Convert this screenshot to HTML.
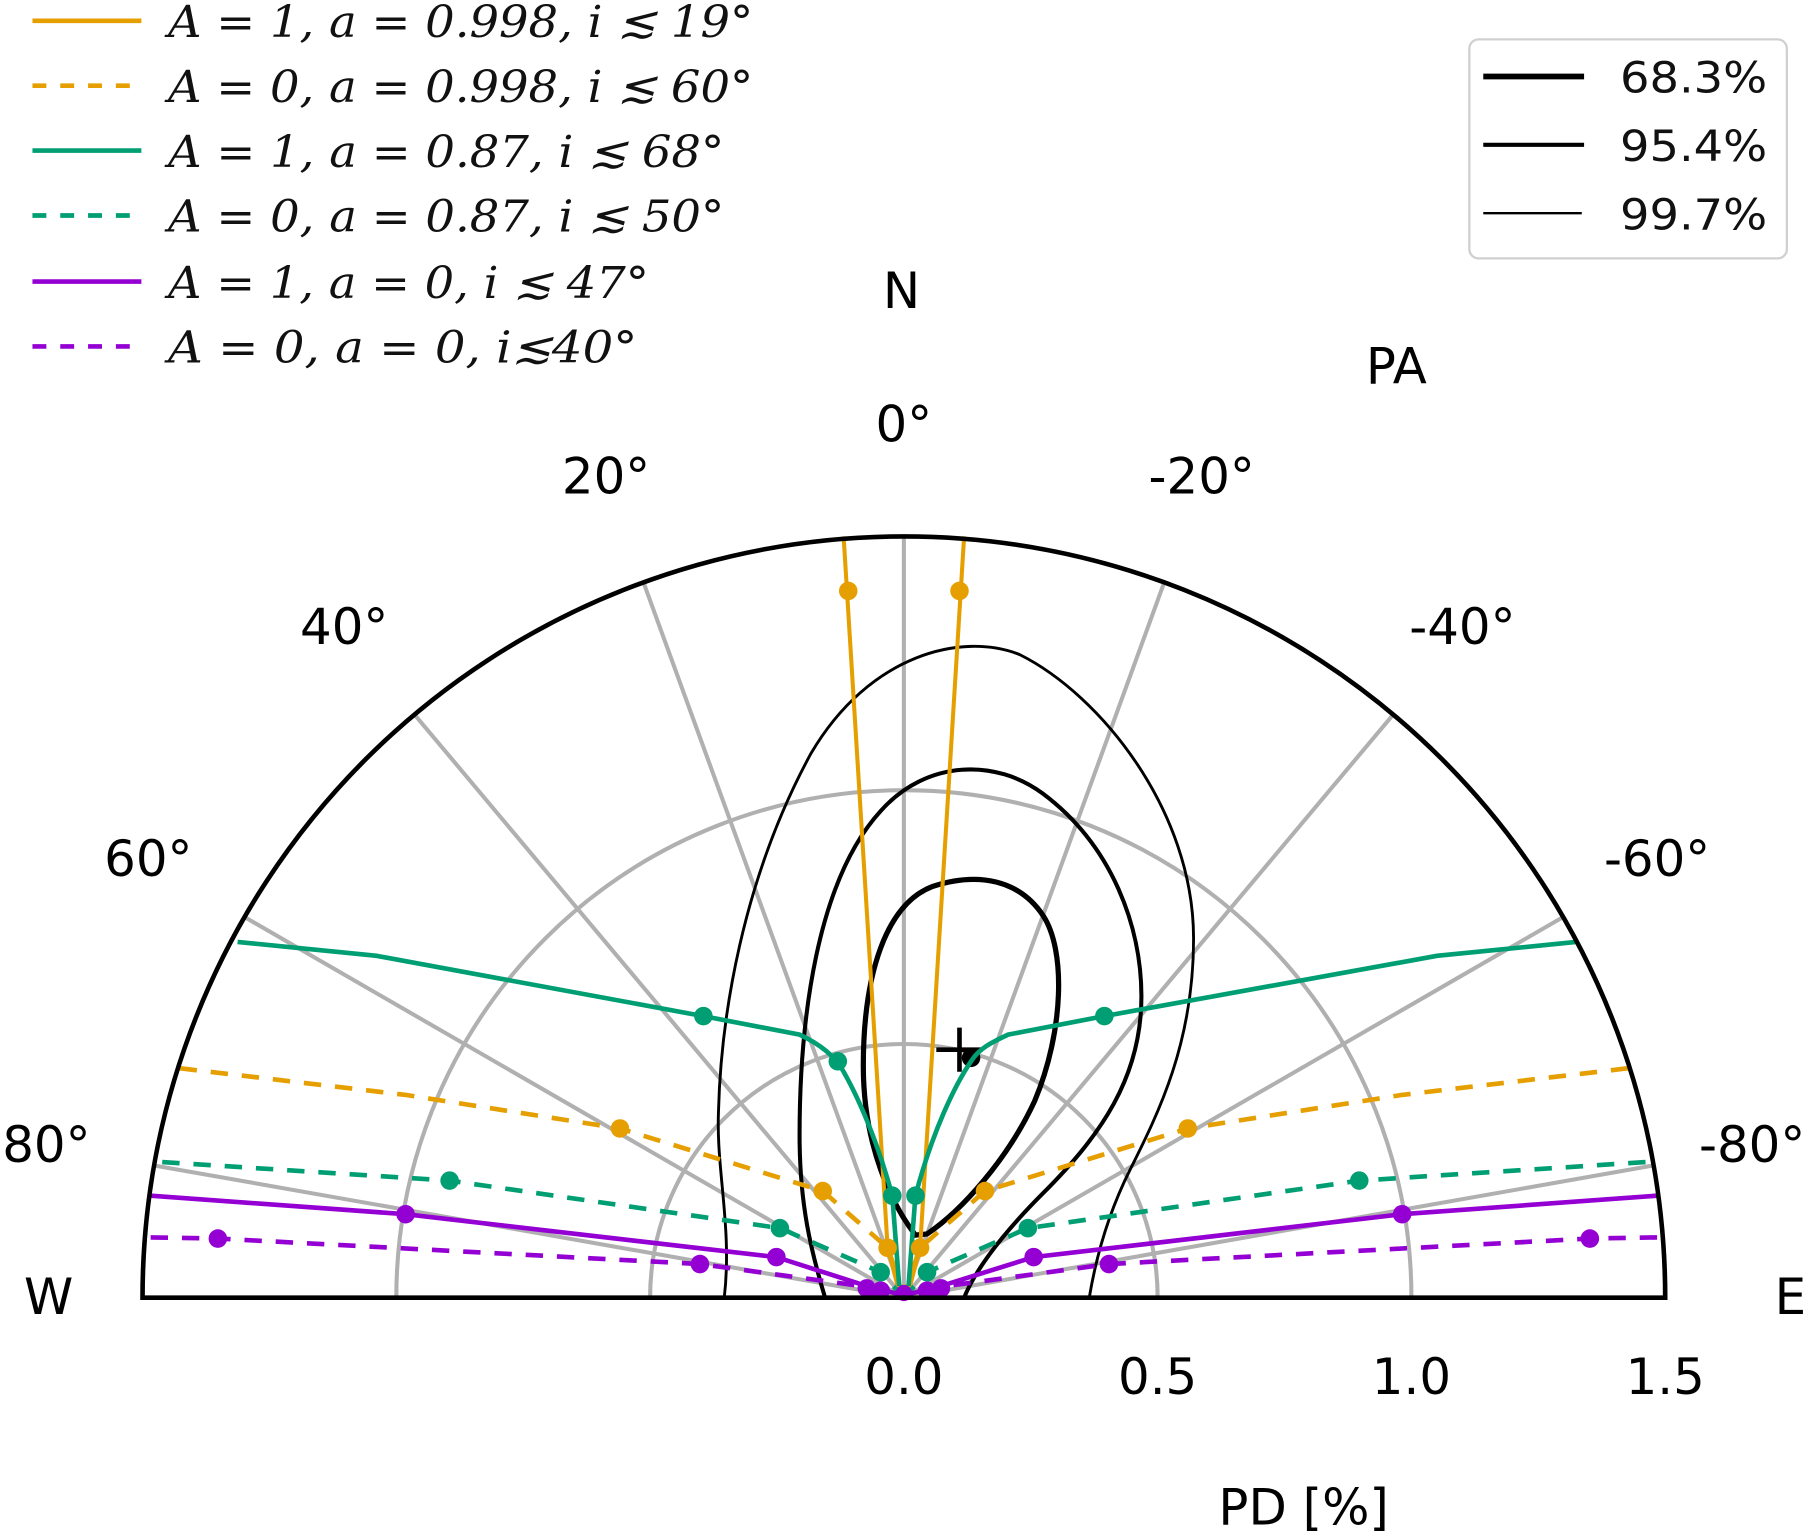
<!DOCTYPE html>
<html><head><meta charset="utf-8"><style>
html,body{margin:0;padding:0;background:#fff}
svg{display:block}
.t{font-family:"DejaVu Sans","Liberation Sans",sans-serif;font-size:43px;fill:#000}
.l{font-family:"DejaVu Serif","Liberation Serif",serif;font-style:italic;font-size:38px;fill:#111}
.r{font-family:"DejaVu Sans","Liberation Sans",sans-serif;font-size:37px;fill:#111}
</style></head><body>
<svg width="1817" height="1534" viewBox="0 0 1568 1324" preserveAspectRatio="none" xmlns="http://www.w3.org/2000/svg">
<g stroke="#b0b0b0" stroke-width="3.5" fill="none">
<path d="M561,1120 A219,219 0 0 1 999,1120"/>
<path d="M342,1120 A438,438 0 0 1 1218,1120"/>
<line x1="780" y1="1120" x2="780" y2="463"/>
<line x1="780" y1="1120" x2="555.3" y2="502.6"/>
<line x1="780" y1="1120" x2="1004.7" y2="502.6"/>
<line x1="780" y1="1120" x2="357.7" y2="616.7"/>
<line x1="780" y1="1120" x2="1202.3" y2="616.7"/>
<line x1="780" y1="1120" x2="211" y2="791.5"/>
<line x1="780" y1="1120" x2="1349" y2="791.5"/>
<line x1="780" y1="1120" x2="133" y2="1005.9"/>
<line x1="780" y1="1120" x2="1427" y2="1005.9"/>
</g>
<g stroke="#000" fill="none">
<path stroke-width="2.5" d="M625,1120 C632,1060 618,1010 620,960 C622,880 640,760 700,650 C750,565 830,545 880,565 C950,600 1030,700 1030,810 C1030,900 1000,960 975,1010 C955,1050 945,1090 940,1120"/>
<path stroke-width="3.5" d="M712,1120 C700,1080 690,1040 690,980 C690,880 705,760 760,700 C800,655 860,655 900,685 C960,730 985,800 985,860 C985,930 950,980 900,1030 C860,1070 840,1100 832,1120"/>
<path stroke-width="4.5" d="M790,1066 C770,1040 745,990 745,920 C745,840 765,780 805,765 C845,752 880,760 900,790 C920,820 918,890 893,950 C870,1000 830,1045 800,1065 Z"/>
<path stroke-width="4" d="M828,887 V925 M808,906 H848"/>
<circle cx="838" cy="913" r="8" fill="#000" stroke="none"/>
</g>
<g stroke="#E69F00" stroke-width="3.5" fill="none">
<path d="M776,1115 L766,1077 L728,463"/>
<path d="M784,1115 L794,1077 L832,463"/>
</g>
<g stroke="#E69F00" stroke-width="4" fill="none" stroke-dasharray="15,12">
<path d="M155,922 L350,945 L535,974 L710,1028 L766,1077 L780,1117"/>
<path d="M1405,922 L1210,945 L1025,974 L850,1028 L794,1077 L780,1117"/>
</g>
<g stroke="#009E73" stroke-width="4" fill="none">
<path d="M205,813 L325,825 L607,877 L690,893 C705,900 720,910 728,925 C745,955 760,995 770,1032 L776,1110"/>
<path d="M1360,813 L1240,825 L953,877 L870,893 C855,900 845,905 838,916 C825,935 805,975 790,1032 L784,1110"/>
</g>
<g stroke="#009E73" stroke-width="4" fill="none" stroke-dasharray="15,12">
<path d="M140,1003 L388,1019 L673,1060 L760,1098 L778,1118"/>
<path d="M1420,1003 L1173,1019 L887,1060 L800,1098 L782,1118"/>
</g>
<g stroke="#9400D3" stroke-width="4" fill="none">
<path d="M130,1032 L350,1048 L670,1085 L748,1110 L780,1118"/>
<path d="M1430,1032 L1210,1048 L892,1085 L812,1110 L780,1118"/>
</g>
<g stroke="#9400D3" stroke-width="4" fill="none" stroke-dasharray="15,12">
<path d="M130,1068 L188,1069 L604,1091 L758,1112"/>
<path d="M1430,1068 L1372,1069 L957,1091 L802,1112"/>
</g>
<g fill="#E69F00">
<circle cx="732" cy="510" r="8"/><circle cx="828" cy="510" r="8"/>
<circle cx="766" cy="1077" r="8"/><circle cx="794" cy="1077" r="8"/>
<circle cx="535" cy="974" r="8"/><circle cx="710" cy="1028" r="8"/>
<circle cx="1025" cy="974" r="8"/><circle cx="850" cy="1028" r="8"/>
</g>
<g fill="#009E73">
<circle cx="607" cy="877" r="8"/><circle cx="723" cy="916" r="8"/><circle cx="770" cy="1032" r="8"/>
<circle cx="953" cy="877" r="8"/><circle cx="790" cy="1032" r="8"/>
<circle cx="388" cy="1019" r="8"/><circle cx="673" cy="1060" r="8"/><circle cx="760" cy="1098" r="8"/>
<circle cx="1173" cy="1019" r="8"/><circle cx="887" cy="1060" r="8"/><circle cx="800" cy="1098" r="8"/>
</g>
<g fill="#9400D3">
<circle cx="350" cy="1048" r="8"/><circle cx="670" cy="1085" r="8"/><circle cx="1210" cy="1048" r="8"/><circle cx="892" cy="1085" r="8"/>
<circle cx="188" cy="1069" r="8"/><circle cx="604" cy="1091" r="8"/><circle cx="1372" cy="1069" r="8"/><circle cx="957" cy="1091" r="8"/>
<circle cx="748" cy="1112" r="8"/><circle cx="760" cy="1114" r="8"/><circle cx="800" cy="1114" r="8"/><circle cx="812" cy="1112" r="8"/><circle cx="780" cy="1116" r="7"/>
</g>
<path d="M123,1120 A657,657 0 0 1 1437,1120 Z" fill="none" stroke="#000" stroke-width="4"/>
<g class="t" text-anchor="middle">
<text x="778" y="266">N</text>
<text x="1205" y="331">PA</text>
<text x="780" y="381">0°</text>
<text x="523" y="426">20°</text>
<text x="1037" y="426">-20°</text>
<text x="297" y="556">40°</text>
<text x="1262" y="556">-40°</text>
<text x="128" y="756">60°</text>
<text x="1430" y="756">-60°</text>
<text x="40" y="1003">80°</text>
<text x="1512" y="1003">-80°</text>
<text x="42" y="1134">W</text>
<text x="1545" y="1134">E</text>
<text x="780" y="1203">0.0</text>
<text x="999" y="1203">0.5</text>
<text x="1218" y="1203">1.0</text>
<text x="1437" y="1203">1.5</text>
<text x="1125" y="1316">PD [%]</text>
</g>
<g stroke-width="4" fill="none">
<line x1="28" y1="18" x2="122" y2="18" stroke="#E69F00"/>
<line x1="28" y1="74" x2="122" y2="74" stroke="#E69F00" stroke-dasharray="12,12"/>
<line x1="28" y1="130" x2="122" y2="130" stroke="#009E73"/>
<line x1="28" y1="186" x2="122" y2="186" stroke="#009E73" stroke-dasharray="12,12"/>
<line x1="28" y1="243" x2="122" y2="243" stroke="#9400D3"/>
<line x1="28" y1="299" x2="122" y2="299" stroke="#9400D3" stroke-dasharray="12,12"/>
</g>
<g class="l">
<text x="145" y="32" textLength="505" lengthAdjust="spacingAndGlyphs">A = 1, a = 0.998, i ≲ 19°</text>
<text x="145" y="88" textLength="505" lengthAdjust="spacingAndGlyphs">A = 0, a = 0.998, i ≲ 60°</text>
<text x="145" y="144" textLength="480" lengthAdjust="spacingAndGlyphs">A = 1, a = 0.87, i ≲ 68°</text>
<text x="145" y="200" textLength="480" lengthAdjust="spacingAndGlyphs">A = 0, a = 0.87, i ≲ 50°</text>
<text x="145" y="257" textLength="415" lengthAdjust="spacingAndGlyphs">A = 1, a = 0, i ≲ 47°</text>
<text x="145" y="313" textLength="405" lengthAdjust="spacingAndGlyphs">A = 0, a = 0, i≲40°</text>
</g>
<rect x="1268" y="34" width="274" height="189" rx="8" fill="#fff" stroke="#d0d0d0" stroke-width="2"/>
<line x1="1280" y1="66" x2="1367" y2="66" stroke="#000" stroke-width="5"/>
<line x1="1280" y1="125" x2="1367" y2="125" stroke="#000" stroke-width="3.5"/>
<line x1="1280" y1="184" x2="1365" y2="184" stroke="#000" stroke-width="2"/>
<g class="r">
<text x="1398" y="80" textLength="127" lengthAdjust="spacingAndGlyphs">68.3%</text>
<text x="1398" y="139" textLength="127" lengthAdjust="spacingAndGlyphs">95.4%</text>
<text x="1398" y="198" textLength="127" lengthAdjust="spacingAndGlyphs">99.7%</text>
</g>
</svg>
</body></html>
